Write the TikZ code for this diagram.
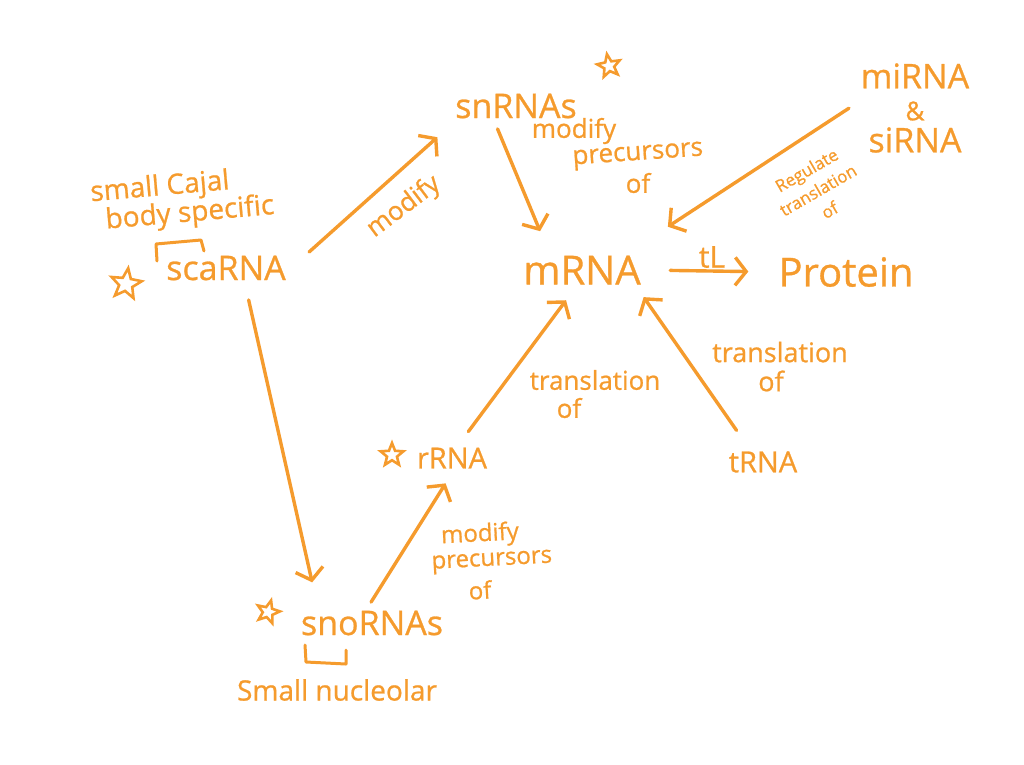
\documentclass[tikz,border=0pt]{standalone}
\usepackage{fontspec}
\setmainfont{Open Sans}[FakeBold=0.8]
\usetikzlibrary{arrows.meta,shapes.geometric}
\definecolor{hand}{RGB}{245,155,45}
\tikzset{
  every node/.style={text=hand},
  term/.style={inner sep=0pt, anchor=center, font=\fontsize{34}{38}\selectfont},
  big/.style={inner sep=0pt, anchor=center, font=\fontsize{40}{44}\selectfont},
  lab/.style={inner sep=0pt, anchor=center, font=\fontsize{26}{28}\selectfont, align=center},
  smalllab/.style={inner sep=0pt, anchor=center, font=\fontsize{17}{23}\selectfont, align=center},
  conn/.style={draw=hand, line width=3.4pt, line cap=round, line join=round,
    -{Straight Barb[length=11pt,width=28pt,line width=3.4pt]}},
  ink/.style={draw=hand, line width=3pt, line cap=round, line join=round},
  hstar/.style={star, star points=5, star point ratio=2.3, draw=hand, line width=2.6pt, inner sep=0pt, minimum size=#1},
}
\begin{document}
\begin{tikzpicture}[x=1pt,y=-1pt]
\useasboundingbox (0,0) rectangle (1024,764);
% main terms
\node[term, minimum width=130pt, minimum height=40pt] (sca) at (226,268) {scaRNA};
\node[term, minimum width=130pt, minimum height=38pt] (sn) at (516,106) {snRNAs};
\node[big, minimum width=120pt, minimum height=44pt] (mrna) at (582,270) {mRNA};
\node[big, minimum width=120pt, minimum height=40pt] (prot) at (846,272) {Protein};
\node[term, align=center, minimum width=125pt, minimum height=110pt] (mi) at (915,108) {miRNA\\[-6pt]{\fontsize{26}{26}\selectfont\&}\\[-6pt]siRNA};
\node[term, font=\fontsize{29}{30}\selectfont, minimum width=80pt, minimum height=30pt] (rrna) at (452,458) {rRNA};
\node[term, font=\fontsize{29}{30}\selectfont, minimum width=90pt, minimum height=30pt] (trna) at (763,462) {tRNA};
\node[term, minimum width=130pt, minimum height=38pt] (sno) at (372,623) {snoRNAs};
% stars
\node[hstar=32pt, rotate=-8] (st1) at (126,284) {};
\node[hstar=24pt, rotate=10] (st2) at (609,66) {};
\node[hstar=24pt] (st3) at (392,455) {};
\node[hstar=24pt, rotate=-15] (st4) at (268,612) {};
% labels
\node[lab, font=\fontsize{28}{30}\selectfont, rotate=5] (cajal1) at (160,188) {small Cajal};
\node[lab, font=\fontsize{28}{30}\selectfont, rotate=5] (cajal2) at (190,214) {body specific};
\node[lab, rotate=37] (mod1) at (404,207) {modify};
\node[lab] (mod2a) at (574,131) {modify};
\node[lab, rotate=4] (mod2b) at (638,156) {precursors};
\node[lab] (mod2c) at (638,183) {of};
\node[smalllab, rotate=30] (reg) at (818,190) {Regulate\\translation\\of};
\node[lab, font=\fontsize{30}{30}\selectfont] (tl) at (712,257) {tL};
\node[lab] (tr1a) at (595,380) {translation};
\node[lab] (tr1b) at (569,408) {of};
\node[lab, font=\fontsize{27}{28}\selectfont] (tr2a) at (780,352) {translation};
\node[lab, font=\fontsize{27}{28}\selectfont] (tr2b) at (771,381) {of};
\node[lab, font=\fontsize{24}{25}\selectfont, rotate=3] (mod3a) at (480,535) {modify};
\node[lab, font=\fontsize{24}{25}\selectfont, rotate=3] (mod3b) at (492,562) {precursors};
\node[lab, font=\fontsize{24}{25}\selectfont, rotate=3] (mod3c) at (480,590) {of};
\node[lab, font=\fontsize{28}{30}\selectfont] (nucl) at (337,690) {Small nucleolar};
% brackets
\draw[ink] (157,261) -- (156,244) -- (201,240) -- (204,251);
\draw[ink] (305,645) -- (306,662) -- (346,664) -- (346,650);
% connectors
\draw[conn, shorten <=24pt, shorten >=18pt] (sca.east) -- (sn.south west);
\draw[conn, shorten <=4pt, shorten >=18pt] ([xshift=-20pt]sn.south) -- ([xshift=-35pt]mrna.north);
\draw[conn, shorten <=4pt, shorten >=2pt] ([yshift=2pt]mi.west) -- ([xshift=24pt,yshift=20pt]mrna.north east);
\draw[conn, shorten <=28pt, shorten >=30pt] (mrna.east) -- (prot.west);
\draw[conn, shorten <=14pt, shorten >=10pt] ([xshift=8pt]rrna.north) -- ([xshift=-10pt]mrna.south);
\draw[conn, shorten <=20pt, shorten >=6pt] ([xshift=-15pt]trna.north) -- ([xshift=-2pt]mrna.south east);
\draw[conn, shorten <=12pt, shorten >=22pt] ([xshift=20pt]sca.south) -- ([xshift=-55pt]sno.north);
\draw[conn, shorten <=2pt, shorten >=12pt] ([xshift=-2pt]sno.north) -- (rrna.south);
\end{tikzpicture}
\end{document}
